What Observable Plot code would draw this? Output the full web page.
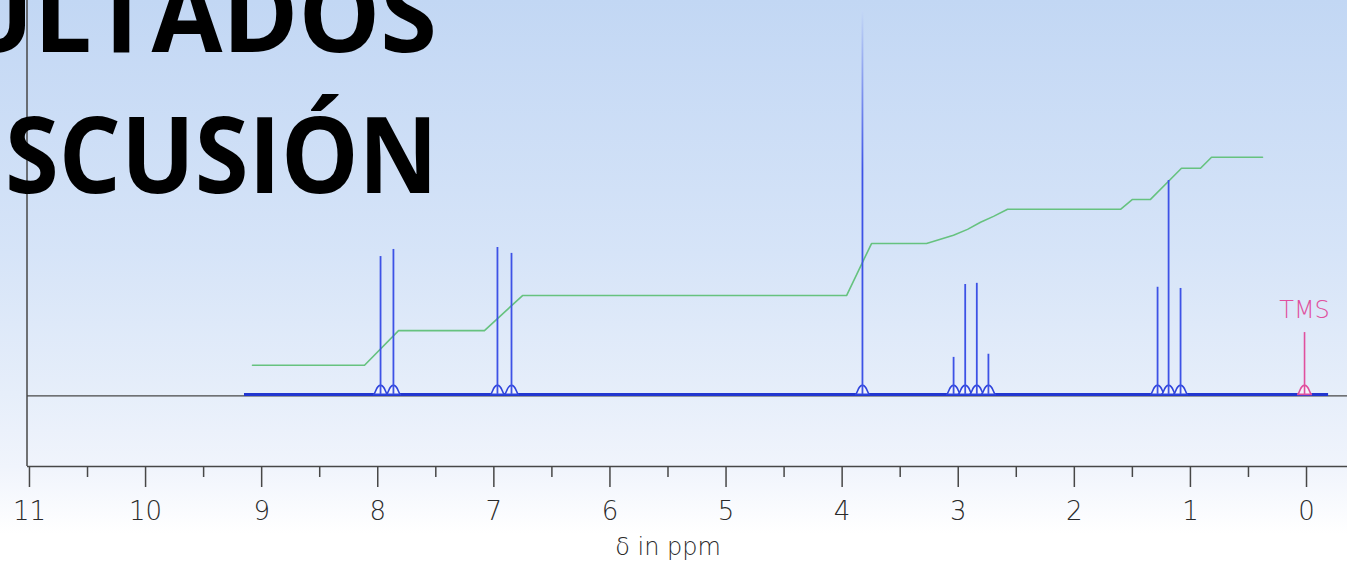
<!DOCTYPE html>
<html>
<head>
<meta charset="utf-8">
<script src="https://cdn.jsdelivr.net/npm/d3@7"></script>
<script src="https://cdn.jsdelivr.net/npm/@observablehq/plot@0.6"></script>
<style>
  html, body { margin: 0; padding: 0; background: #ffffff; }
  #wrap { position: relative; width: 1347px; height: 562px; overflow: hidden; }
  #chart svg text { font-family: "DejaVu Sans", sans-serif; font-weight: 200; }
  #title { position: absolute; left: 0; top: 0; pointer-events: none; }
</style>
</head>
<body>
<div id="wrap">
  <div id="chart"></div>
  <svg id="title" width="1347" height="562"></svg>
</div>
<script>
// ---- data ----
const titleLines = ["ULTADOS", "SCUSIÓN"];
const axisLabel = "δ in ppm";
const majorTicks = [11, 10, 9, 8, 7, 6, 5, 4, 3, 2, 1, 0];
const minorTicks = [10.5, 9.5, 8.5, 7.5, 6.5, 5.5, 4.5, 3.5, 2.5, 1.5, 0.5];
const xDomain = [11.017, -0.353];       // chemical shift shown, ppm (reversed)
const yDomain = [-18.3, 100];           // relative intensity
const spectrumRange = [9.148, -0.19];   // ppm extent of the recorded baseline

const peakPpm    = [7.976, 7.865, 6.969, 6.848, 3.04, 2.94, 2.84, 2.74, 1.283, 1.188, 1.085];
const peakHeight = [35.0, 36.8, 37.3, 35.8, 9.4, 27.9, 28.2, 10.2, 27.2, 54.3, 26.9];
const singletPpm = [3.825];
const singletHeight = [97.5];
const tmsPpm = [0.017];
const tmsHeight = [15.7];
const tmsLabel = ["TMS"];

const integralPpm   = [9.079, 8.114, 7.821, 7.081, 6.753, 3.962, 3.747, 3.273, 3.041, 2.920, 2.808, 2.696, 2.575, 1.602, 1.499, 1.344, 1.077, 0.913, 0.818, 0.379];
const integralValue = [7.4, 7.4, 16.2, 16.2, 25.1, 25.1, 38.3, 38.3, 40.4, 41.9, 43.7, 45.2, 47.0, 47.0, 49.5, 49.5, 57.4, 57.4, 60.2, 60.2];

// ---- derived tables ----
const peaks = peakPpm.map((x, i) => ({x, h: peakHeight[i]}));
const singlet = singletPpm.map((x, i) => ({x, h: singletHeight[i]}));
const allPeaks = peaks.concat(singlet);
const tms = tmsPpm.map((x, i) => ({x, h: tmsHeight[i], label: tmsLabel[i]}));
const integral = integralPpm.map((x, i) => ({x, y: integralValue[i]}));

// rounded foot drawn under every line (a style, not data)
const bell = {
  draw(ctx) {
    ctx.moveTo(-7.5, 0);
    ctx.bezierCurveTo(-4.5, 0, -5, -9, 0, -9);
    ctx.bezierCurveTo(5, -9, 4.5, 0, 7.5, 0);
    ctx.closePath();
  }
};

const blue = "#3d52e6";
const gray = "#474747";

const plot = Plot.plot({
  width: 1347,
  height: 562,
  marginLeft: 27,
  marginRight: 0,
  marginTop: 0,
  marginBottom: 96,
  style: {
    background: "linear-gradient(to bottom, #c2d7f4 0%, #d6e4f8 45%, #e6eefa 70%, #f0f4fc 83%, #ffffff 95%)",
    overflow: "visible"
  },
  x: {domain: xDomain},
  y: {domain: yDomain, axis: null},
  marks: [
    // frame lines: left and bottom
    Plot.ruleX([xDomain[0]], {stroke: gray, strokeWidth: 1.5, dx: -0.5}),
    Plot.ruleY([yDomain[0]], {stroke: gray, strokeWidth: 1.5}),
    // zero line
    Plot.ruleY([0], {stroke: gray, strokeWidth: 1.2, dy: 1.5}),
    // integration curve
    Plot.line(integral, {x: "x", y: "y", stroke: "#66c27f", strokeWidth: 1.6}),
    // recorded baseline
    Plot.ruleY([0], {x1: spectrumRange[0], x2: spectrumRange[1], stroke: "#2236cf", strokeWidth: 3}),
    // peak feet
    Plot.dot(allPeaks, {x: "x", y: 0, symbol: bell, r: 1, fill: "#f3f5fb", stroke: "#2f45dc", strokeWidth: 1.6}),
    Plot.dot(tms, {x: "x", y: 0, symbol: bell, r: 1, fill: "#f3f5fb", stroke: "#e0509e", strokeWidth: 1.6}),
    // peaks
    Plot.ruleX(peaks, {x: "x", y1: 0, y2: "h", stroke: blue, strokeWidth: 1.8}),
    Plot.ruleX(singlet, {x: "x", y1: 0, y2: "h", stroke: "url(#fadeTop)", strokeWidth: 1.8}),
    Plot.ruleX(tms, {x: "x", y1: 0, y2: "h", stroke: "#e0509e", strokeWidth: 1.6}),
    Plot.text(tms, {x: "x", y: "h", text: "label", dy: -22, fill: "#e0509e", fontSize: 24, lineAnchor: "middle"}),
    // axis
    Plot.axisX({ticks: majorTicks, tickSize: 21, tickPadding: 14, fontSize: 26, stroke: gray, fill: "#2a2a2a", strokeWidth: 1.5, tickFormat: d => String(d), label: null}),
    Plot.axisX({ticks: minorTicks, tickSize: 11, tickFormat: () => "", stroke: gray, strokeWidth: 1.5, label: null}),
    Plot.text([axisLabel], {x: 5.5, frameAnchor: "bottom", dy: 81, fontSize: 24, fill: "#2a2a2a", lineAnchor: "middle"})
  ]
});

// gradient for the tall singlet (fades toward the top)
const ns = "http://www.w3.org/2000/svg";
const defs = document.createElementNS(ns, "defs");
defs.innerHTML = '<linearGradient id="fadeTop" gradientUnits="userSpaceOnUse" x1="0" y1="5" x2="0" y2="170">' +
  '<stop offset="0" stop-color="#c8dcf6"/><stop offset="1" stop-color="' + blue + '"/></linearGradient>';
plot.insertBefore(defs, plot.firstChild);
document.getElementById("chart").appendChild(plot);

// slide title fragments overlaid on the picture
const t = d3.select("#title");
const titleSpecs = [
  {text: titleLines[0], x: -44, y: 52, len: 481},
  {text: titleLines[1], x: 5, y: 193, len: 433}
];
titleSpecs.forEach(s => {
  t.append("text")
    .attr("x", s.x).attr("y", s.y)
    .attr("font-family", "'Open Sans', 'Lato', sans-serif")
    .attr("font-weight", 700)
    .attr("font-size", 105)
    .attr("fill", "#000")
    .attr("textLength", s.len)
    .attr("lengthAdjust", "spacingAndGlyphs")
    .text(s.text);
});
</script>
</body>
</html>
